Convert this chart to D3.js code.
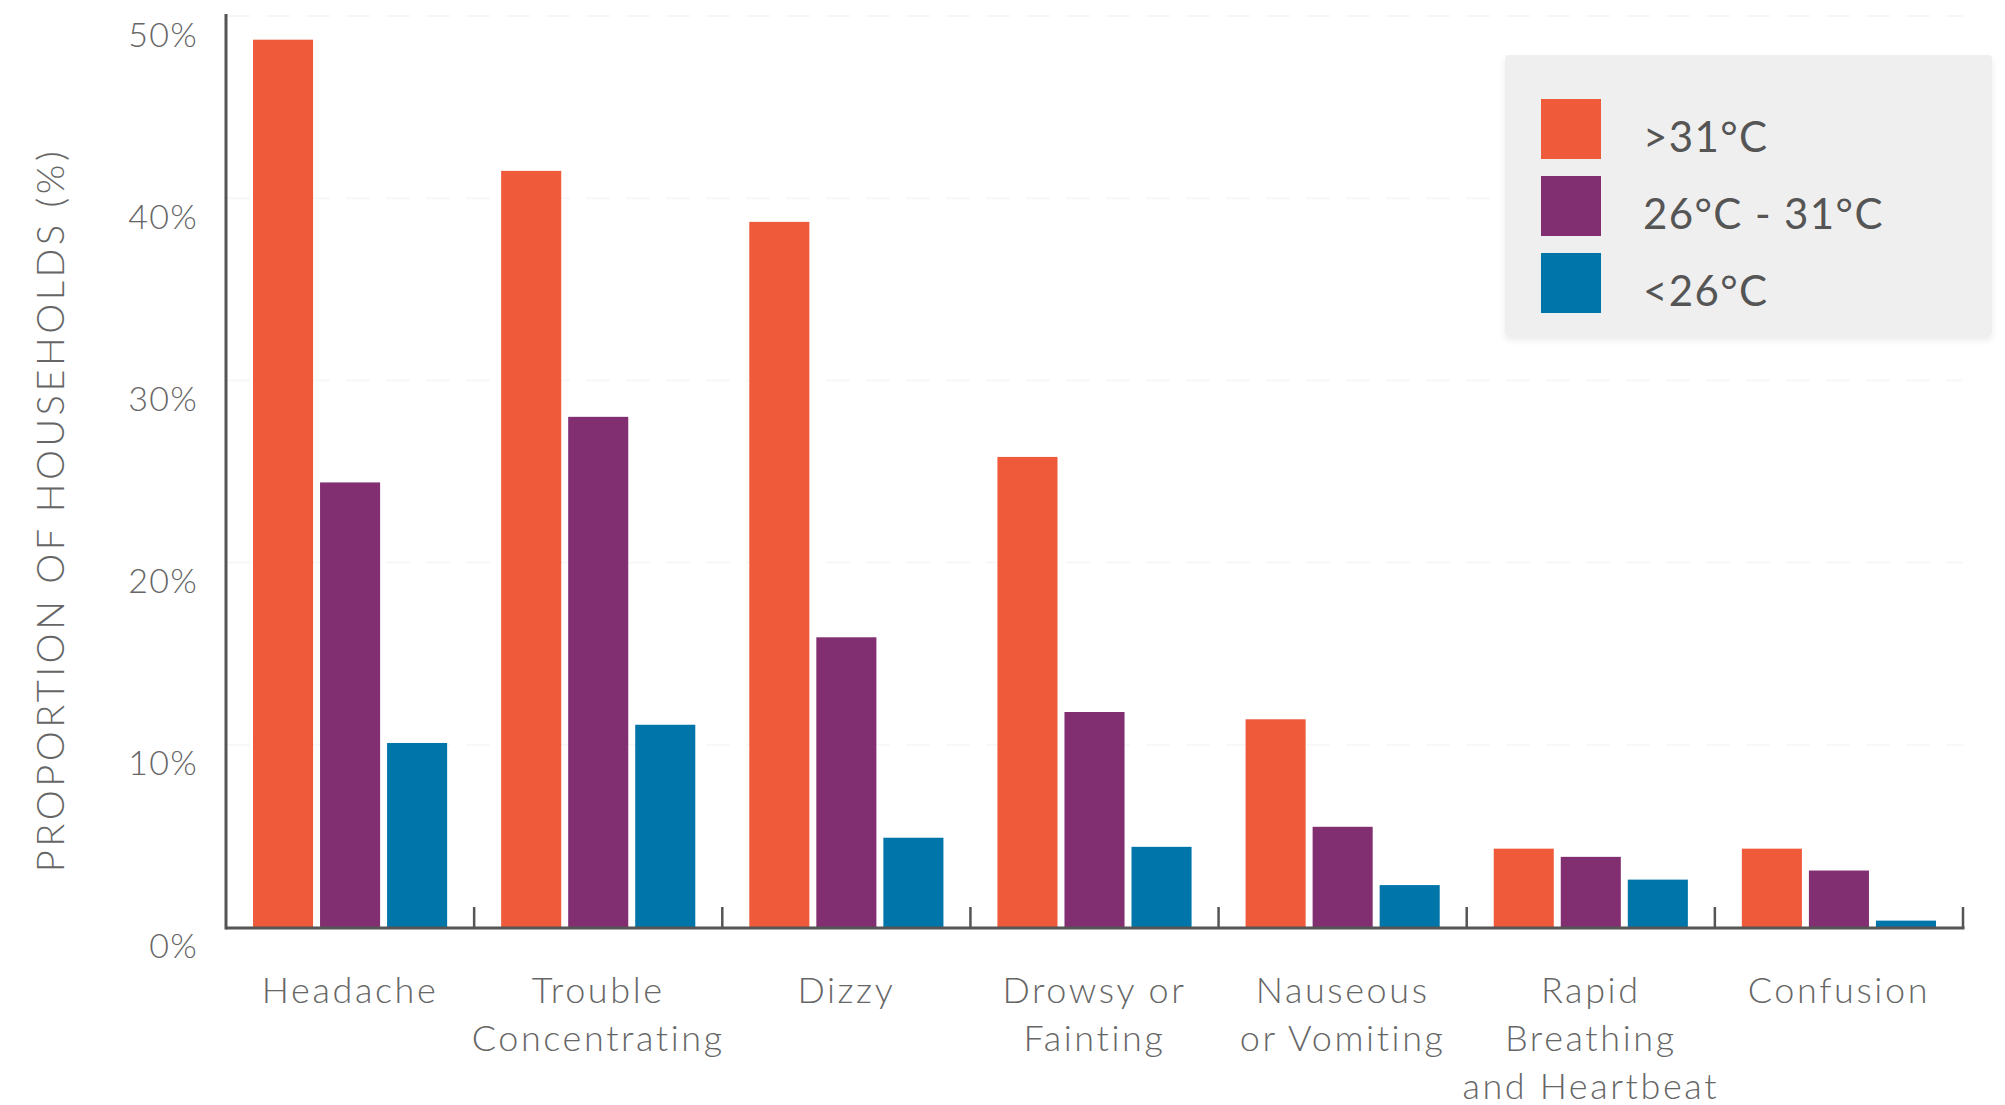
<!DOCTYPE html>
<html>
<head>
<meta charset="utf-8">
<script src="https://cdn.jsdelivr.net/npm/d3@7"></script>
<style>
  html, body { margin: 0; padding: 0; background: #ffffff; }
  svg { display: block; }
  text { font-family: Lato, "Open Sans", sans-serif; }
</style>
</head>
<body>
<svg id="chart" width="2005" height="1105"></svg>
<script>
// ---- data ----
const categories = ["Headache", "Trouble Concentrating", "Dizzy", "Drowsy or Fainting",
                    "Nauseous or Vomiting", "Rapid Breathing and Heartbeat", "Confusion"];
const categoryLines = [["Headache"], ["Trouble", "Concentrating"], ["Dizzy"], ["Drowsy or", "Fainting"],
                       ["Nauseous", "or Vomiting"], ["Rapid", "Breathing", "and Heartbeat"], ["Confusion"]];
const seriesNames = [">31\u00B0C", "26\u00B0C - 31\u00B0C", "<26\u00B0C"];
const above31 = [48.7, 41.5, 38.7, 25.8, 11.4, 4.3, 4.3];
const between26and31 = [24.4, 28.0, 15.9, 11.8, 5.5, 3.85, 3.1];
const below26 = [10.1, 11.1, 4.9, 4.4, 2.3, 2.6, 0.35];
const yTicks = [0, 10, 20, 30, 40, 50];
const yTitle = "PROPORTION OF HOUSEHOLDS (%)";

const seriesValues = [above31, between26and31, below26];
const colors = ["#EF5A3B", "#812F71", "#0075A9"];

// ---- layout ----
const plotLeft = 226, plotRight = 1963, plotTop = 16, plotBottom = 927;
const svg = d3.select("#chart");

const x0 = d3.scaleBand().domain(categories).range([plotLeft, plotRight]).padding(0);
const x1 = d3.scaleBand().domain(seriesNames).range([27, x0.bandwidth() - 27]).paddingInner(0.104);
const y = d3.scaleLinear().domain([0, 50]).range([plotBottom, plotTop]);

// gridlines (very faint)
svg.append("g").selectAll("line").data(yTicks.filter(d => d > 0)).join("line")
  .attr("x1", plotLeft).attr("x2", plotRight)
  .attr("y1", d => y(d)).attr("y2", d => y(d))
  .attr("stroke", "#f7f7f7").attr("stroke-width", 2)
  .attr("stroke-dasharray", "24,16");

// bars
const rows = categories.map((c, i) => ({ cat: c, vals: seriesNames.map((s, j) => ({ s, j, v: seriesValues[j][i] })) }));
const groups = svg.append("g").selectAll("g").data(rows).join("g")
  .attr("transform", d => `translate(${x0(d.cat)},0)`);
groups.selectAll("rect").data(d => d.vals).join("rect")
  .attr("x", d => x1(d.s))
  .attr("width", x1.bandwidth())
  .attr("y", d => y(d.v))
  .attr("height", d => y(0) - y(d.v))
  .attr("fill", d => colors[d.j]);

// y axis
const yAxis = d3.axisLeft(y).tickValues(yTicks).tickFormat(d => d + "%").tickSize(0).tickPadding(28);
const gy = svg.append("g").attr("transform", `translate(${plotLeft},0)`).call(yAxis);
gy.select(".domain").remove();
gy.selectAll("text")
  .attr("font-family", "Lato, sans-serif")
  .attr("font-weight", 300)
  .attr("font-size", 34)
  .attr("fill", "#666")
  .attr("dy", 30)
  .attr("letter-spacing", 1.3);

// x axis line and boundary ticks
const axisColor = "#555";
svg.append("line").attr("x1", plotLeft).attr("x2", plotRight + 1.5).attr("y1", plotBottom + 1).attr("y2", plotBottom + 1)
  .attr("stroke", axisColor).attr("stroke-width", 3);
svg.append("line").attr("x1", plotLeft).attr("x2", plotLeft).attr("y1", plotTop - 2).attr("y2", plotBottom + 2.5)
  .attr("stroke", axisColor).attr("stroke-width", 3);
svg.append("g").selectAll("line").data(categories).join("line")
  .attr("x1", d => x0(d) + x0.bandwidth()).attr("x2", d => x0(d) + x0.bandwidth())
  .attr("y1", plotBottom - 20).attr("y2", plotBottom + 1)
  .attr("stroke", axisColor).attr("stroke-width", 2.5);

// x labels
const xl = svg.append("g").selectAll("text").data(categories).join("text")
  .attr("x", d => x0(d) + x0.bandwidth() / 2)
  .attr("y", 1003)
  .attr("text-anchor", "middle")
  .attr("font-weight", 300)
  .attr("font-size", 36)
  .attr("letter-spacing", 2.6)
  .attr("fill", "#666");
xl.selectAll("tspan").data((d, i) => categoryLines[i]).join("tspan")
  .attr("x", function () { return d3.select(this.parentNode).attr("x"); })
  .attr("dy", (d, i) => i === 0 ? 0 : 48)
  .text(d => d);

// y title
svg.append("text")
  .attr("transform", `translate(64,510) rotate(-90)`)
  .attr("text-anchor", "middle")
  .attr("font-weight", 300)
  .attr("font-size", 38)
  .attr("letter-spacing", 3.5)
  .attr("fill", "#666")
  .text(yTitle);

// legend
const defs = svg.append("defs");
const f = defs.append("filter").attr("id", "shadow").attr("x", "-5%").attr("y", "-5%").attr("width", "110%").attr("height", "120%");
f.append("feDropShadow").attr("dx", 0).attr("dy", 4).attr("stdDeviation", 3).attr("flood-color", "#000").attr("flood-opacity", 0.08);
const lg = svg.append("g");
lg.append("rect").attr("x", 1505).attr("y", 55).attr("width", 487).attr("height", 281)
  .attr("rx", 4).attr("fill", "#efefef").attr("filter", "url(#shadow)");
const items = lg.selectAll("g.item").data(seriesNames).join("g").attr("class", "item")
  .attr("transform", (d, i) => `translate(1541,${99 + i * 77})`);
items.append("rect").attr("width", 60).attr("height", 60).attr("fill", (d, i) => colors[i]);
items.append("text").attr("x", 102).attr("y", 53)
  .attr("font-weight", 400).attr("font-size", 42).attr("letter-spacing", 1.4)
  .attr("fill", "#555").text(d => d);
</script>
</body>
</html>
